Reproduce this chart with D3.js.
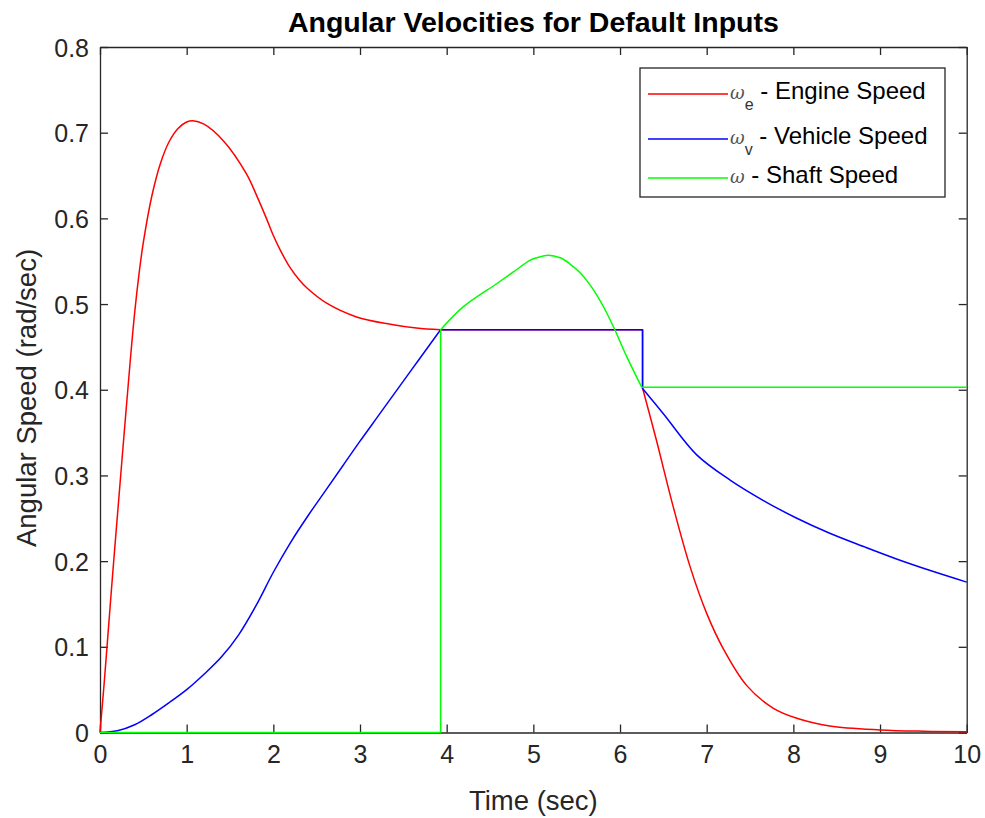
<!DOCTYPE html>
<html>
<head>
<meta charset="utf-8">
<script src="https://cdn.jsdelivr.net/npm/d3@7"></script>
<style>
  html, body { margin: 0; padding: 0; background: #fff; }
  svg { display: block; font-family: "Liberation Sans", Arial, Helvetica, sans-serif; }
</style>
</head>
<body>
<div id="chart"></div>
<script>
// ---------- DATA ----------
const chartTitle = "Angular Velocities for Default Inputs";
const xLabel = "Time (sec)";
const yLabel = "Angular Speed (rad/sec)";
const xTicks = [0, 1, 2, 3, 4, 5, 6, 7, 8, 9, 10];
const yTicks = [0, 0.1, 0.2, 0.3, 0.4, 0.5, 0.6, 0.7, 0.8];

// Engine speed (repeated time = vertical step / sharp corner)
const engineTime  = [0, 0.05, 0.1, 0.15, 0.2, 0.25, 0.3, 0.35, 0.4, 0.45, 0.5, 0.6, 0.7, 0.8, 0.9, 1.0, 1.07, 1.2, 1.42, 1.69, 1.81, 1.92, 2.0, 2.08, 2.19, 2.3, 2.385, 2.615, 2.96, 3.35, 3.65, 3.93,
                     3.93, 6.26,
                     6.26, 6.42, 6.615, 6.81, 7.0, 7.19, 7.46, 7.77, 8.04, 8.42, 9.0, 9.5, 10];
const engineSpeed = [0, 0.06, 0.125, 0.19, 0.252, 0.314, 0.375, 0.435, 0.49, 0.535, 0.572, 0.627, 0.665, 0.690, 0.705, 0.7125, 0.714, 0.710, 0.691, 0.652, 0.626, 0.600, 0.580, 0.563, 0.543, 0.528, 0.519, 0.501, 0.485, 0.4765, 0.472, 0.470,
                     0.470, 0.470,
                     0.402, 0.341, 0.263, 0.193, 0.139, 0.098, 0.055, 0.0282, 0.0166, 0.0076, 0.003, 0.0015, 0.001];

// Vehicle speed
const vehicleTime  = [0, 0.2, 0.4, 0.6, 0.8, 1.0, 1.2, 1.4, 1.6, 1.8, 2.0, 2.2, 2.4, 2.6, 2.8, 3.0, 3.2, 3.4, 3.6, 3.8, 3.93,
                      3.93, 6.26,
                      6.26, 6.5, 6.885, 7.27, 7.65, 8.04, 8.42, 8.81, 9.19, 9.58, 10];
const vehicleSpeed = [0, 0.002, 0.009, 0.021, 0.035, 0.050, 0.068, 0.088, 0.114, 0.148, 0.187, 0.222, 0.253, 0.282, 0.311, 0.340, 0.368, 0.396, 0.424, 0.452, 0.470,
                      0.470, 0.470,
                      0.4015, 0.372, 0.324, 0.2946, 0.271, 0.250, 0.2325, 0.217, 0.2025, 0.189, 0.1755];

// Shaft speed
const shaftTime  = [0, 3.93,
                    3.93, 4.19, 4.58, 4.77, 4.96, 5.04, 5.17, 5.31, 5.42, 5.54, 5.65, 5.77, 5.85, 5.94, 6.08, 6.25,
                    6.25, 10];
const shaftSpeed = [0, 0,
                    0.470, 0.4967, 0.524, 0.5375, 0.551, 0.554, 0.557, 0.554, 0.547, 0.5365, 0.523, 0.504, 0.489, 0.470, 0.438, 0.403,
                    0.403, 0.403];

const seriesNames  = ["Engine Speed", "Vehicle Speed", "Shaft Speed"];
const seriesSubs   = ["e", "v", ""];
const seriesColors = ["#ff0000", "#0000ff", "#00ff00"];

// ---------- LAYOUT ----------
const W = 985, H = 818;
const plot = { left: 100, right: 966.7, top: 47, bottom: 732.5 };
const axisColor = "#262626";

const svg = d3.select("#chart").append("svg").attr("width", W).attr("height", H);

const x = d3.scaleLinear().domain([0, 10]).range([plot.left, plot.right]);
const y = d3.scaleLinear().domain([0, 0.8]).range([plot.bottom, plot.top]);

// Axes (ticks inside, box on)
const tickLen = 8;
const fmtY = d => d === 0 ? "0" : d3.format(".1f")(d);

const gB = svg.append("g").attr("transform", `translate(0,${plot.bottom})`)
  .call(d3.axisBottom(x).tickValues(xTicks).tickFormat(d3.format("d")).tickSizeInner(-tickLen).tickSizeOuter(0).tickPadding(13));
const gL = svg.append("g").attr("transform", `translate(${plot.left},0)`)
  .call(d3.axisLeft(y).tickValues(yTicks).tickFormat(fmtY).tickSizeInner(-tickLen).tickSizeOuter(0).tickPadding(11));
const gT = svg.append("g").attr("transform", `translate(0,${plot.top})`)
  .call(d3.axisTop(x).tickValues(xTicks).tickFormat("").tickSizeInner(-tickLen).tickSizeOuter(0));
const gR = svg.append("g").attr("transform", `translate(${plot.right},0)`)
  .call(d3.axisRight(y).tickValues(yTicks).tickFormat("").tickSizeInner(-tickLen).tickSizeOuter(0));

[gB, gL, gT, gR].forEach(g => {
  g.select(".domain").attr("stroke", axisColor).attr("stroke-width", 1.3);
  g.selectAll(".tick line").attr("stroke", axisColor).attr("stroke-width", 1.3);
  g.selectAll(".tick text").attr("fill", axisColor)
    .style("font-family", '"Liberation Sans", Arial, sans-serif').style("font-size", "25px");
});
gB.selectAll(".tick text").attr("dy", "0.71em");
gL.selectAll(".tick text").attr("dy", "0.36em");

// Series lines: smooth within segments; repeated time => straight join (step)
function seriesPath(ts, vs) {
  const pts = ts.map((t, i) => [t, vs[i]]);
  const segs = [];
  let cur = [pts[0]];
  for (let i = 1; i < pts.length; i++) {
    if (pts[i][0] === pts[i - 1][0]) { segs.push(cur); cur = [pts[i]]; }
    else cur.push(pts[i]);
  }
  segs.push(cur);
  const line = d3.line().x(d => x(d[0])).y(d => y(d[1])).curve(d3.curveCatmullRom.alpha(0.5));
  return segs.map((s, i) => {
    let p = s.length > 1 ? line(s) : `M${x(s[0][0])},${y(s[0][1])}`;
    if (i > 0) p = "L" + p.slice(1);
    return p;
  }).join("");
}

const allSeries = [
  [engineTime, engineSpeed],
  [vehicleTime, vehicleSpeed],
  [shaftTime, shaftSpeed]
];
allSeries.forEach(([ts, vs], i) => {
  svg.append("path")
    .attr("d", seriesPath(ts, vs))
    .attr("fill", "none")
    .attr("stroke", seriesColors[i])
    .attr("stroke-width", 1.5)
    .attr("stroke-linejoin", "round");
});

// Title & labels
svg.append("text").attr("x", (plot.left + plot.right) / 2).attr("y", 32)
  .attr("text-anchor", "middle").attr("fill", "#000")
  .style("font-size", "28.5px").style("font-weight", "bold").text(chartTitle);
svg.append("text").attr("x", (plot.left + plot.right) / 2).attr("y", 810)
  .attr("text-anchor", "middle").attr("fill", axisColor)
  .style("font-size", "27.5px").text(xLabel);
svg.append("text").attr("transform", `translate(36,398) rotate(-90)`)
  .attr("text-anchor", "middle").attr("fill", axisColor)
  .style("font-size", "27.5px").text(yLabel);

// Legend
const lg = svg.append("g");
lg.append("rect").attr("x", 640).attr("y", 68).attr("width", 305).attr("height", 129)
  .attr("fill", "#fff").attr("stroke", axisColor).attr("stroke-width", 1.3);
const rowY = [94, 139, 178];
seriesNames.forEach((name, i) => {
  lg.append("line").attr("x1", 648).attr("x2", 728).attr("y1", rowY[i]).attr("y2", rowY[i])
    .attr("stroke", seriesColors[i]).attr("stroke-width", 1.5);
  const t = lg.append("text").attr("x", 730).attr("y", rowY[i] + 5).attr("fill", "#000")
    .style("font-size", "24px");
  t.append("tspan").style("font-style", "italic").style("font-family", '"DejaVu Serif", serif')
    .style("font-size", "18px").attr("fill", "#555").text("ω");
  if (seriesSubs[i]) {
    t.append("tspan").attr("dy", 11).style("font-size", "16px").attr("fill", "#333").text(seriesSubs[i]);
    t.append("tspan").attr("dy", -11).text(" - " + name);
  } else {
    t.append("tspan").text(" - " + name);
  }
});
</script>
</body>
</html>
